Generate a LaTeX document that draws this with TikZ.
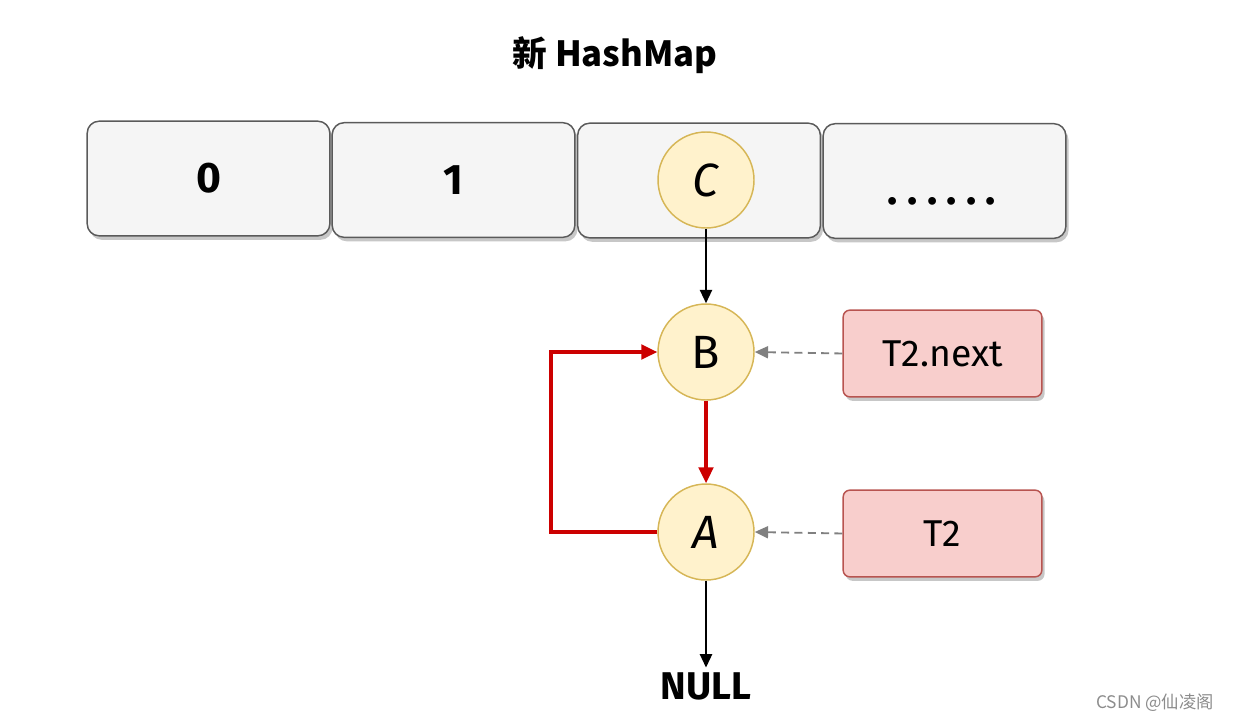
\documentclass[tikz,border=0pt]{standalone}
\usepackage{fontspec}
\setmainfont{Fira Sans}
\newfontfamily\cjk{Noto Sans CJK SC}
\usetikzlibrary{shadows,arrows.meta}
\definecolor{cellfill}{HTML}{F5F5F5}
\definecolor{cellline}{HTML}{5A5A5A}
\definecolor{nodefill}{HTML}{FFF2CC}
\definecolor{nodeline}{HTML}{D6B656}
\definecolor{ptrfill}{HTML}{F8CECC}
\definecolor{ptrline}{HTML}{B85450}
\definecolor{loopred}{HTML}{CC0000}
\definecolor{dashgrey}{HTML}{808080}
\begin{document}
\begin{tikzpicture}[x=0.75pt,y=-0.75pt,
  cell/.style={draw=cellline, fill=cellfill, rounded corners=9pt, line width=1.1pt,
    minimum width=182pt, minimum height=86pt, inner sep=0pt,
    drop shadow={shadow xshift=2pt, shadow yshift=-3pt, fill=black!22, opacity=1},
    font=\fontsize{32}{32}\selectfont\bfseries},
  ptr/.style={draw=ptrline, fill=ptrfill, rounded corners=5pt, line width=1.1pt,
    minimum width=149pt, minimum height=65pt, inner sep=0pt,
    drop shadow={shadow xshift=2pt, shadow yshift=-3pt, fill=black!22, opacity=1},
    font=\fontsize{28}{28}\selectfont},
  elem/.style={circle, draw=nodeline, fill=nodefill, line width=1.1pt,
    minimum size=72pt, inner sep=0pt, font=\fontsize{35}{35}\selectfont},
  link/.style={-{Triangle[length=10pt,width=9pt]}, line width=1.6pt, black},
  loop/.style={-{Triangle[length=12pt,width=11pt]}, line width=2.5pt, loopred},
  ref/.style={-{Triangle[length=10pt,width=9pt]}, line width=1.4pt, dashgrey, dash pattern=on 6pt off 4pt},
]
\useasboundingbox (0,0) rectangle (1237,724);

\node[font=\cjk\bfseries\fontsize{26}{26}\selectfont] (title) at (615,55) {新 HashMap};

\node[cell] (c0) at (208.5,178.5) {0};
\node[cell] (c1) at (453.5,180) {1};
\node[cell] (c2) at (699,180.5) {};
\node[cell] (c3) at (944.5,181) {};
\node[font=\fontsize{32}{32}\selectfont\bfseries, anchor=base] (dots) at (942,204)
  {.\hspace{7pt}.\hspace{7pt}.\hspace{7pt}.\hspace{7pt}.\hspace{7pt}.};

\node[elem] (C) at (706,180) {\textit{C}};
\node[elem] (B) at (706,352) {B};
\node[elem] (A) at (706,532) {\textit{A}};

\node[ptr] (tn) at (942.5,353.5) {T2.next};
\node[ptr] (t2) at (942.5,533.5) {T2};

\node[font=\fontsize{29}{29}\selectfont\bfseries] (null) at (706,686) {NULL};

\draw[link] (C.south) -- (B.north);
\draw[loop] (B.south) -- (A.north);
\coordinate (lc) at (551,532);
\draw[loop] (A.west) -- (lc) |- (B.west);
\draw[ref] (tn.west) -- (B.east);
\draw[ref] (t2.west) -- (A.east);
\draw[link] (A.south) -- (null.north);

\node[font=\cjk\fontsize{13}{13}\selectfont, text=black!45] (wm) at (1155,703) {CSDN @仙凌阁};
\end{tikzpicture}
\end{document}
